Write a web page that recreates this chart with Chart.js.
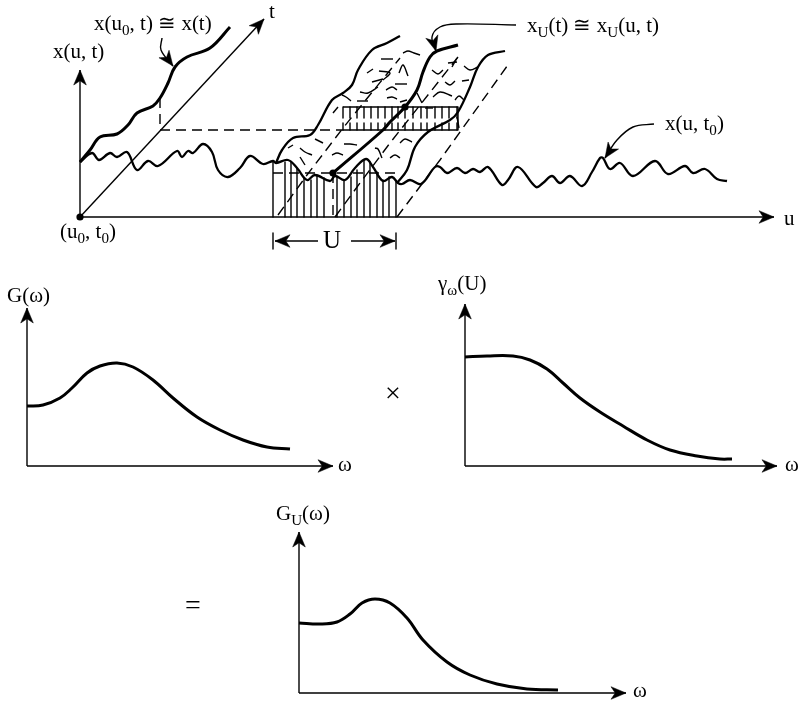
<!DOCTYPE html>
<html>
<head>
<meta charset="utf-8">
<style>
  html, body { margin: 0; padding: 0; background: #fff; }
  canvas { display: block; }
</style>
<script src="https://cdn.jsdelivr.net/npm/chart.js@4"></script>
</head>
<body>
<canvas id="chart" width="802" height="703"></canvas>
<script>
// all values, in page units

// top panel curves
const waveT0 = [[80,162],[92,153],[99,160],[110,153],[117,157],[127,152],[137,170],[148,161],[158,166],[177,151],[182,157],[188,151],[193,153],[203,144],[212,152],[218,170],[228,177],[240,168],[250,156],[263,164],[273,161],[276,163],[288,160],[297,168],[307,180],[315,175],[330,181],[335,176],[345,180],[355,168],[366,159],[373,167],[383,181],[392,177],[398,183],[402,184],[410,180],[421,184],[435,167],[440,167],[447,173],[457,168],[465,173],[473,169],[480,172],[488,167],[502,185],[508,180],[518,167],[536,187],[543,183],[552,176],[560,183],[570,176],[582,186],[592,172],[600,158],[603,158],[610,169],[620,163],[633,176],[655,161],[668,174],[685,166],[693,173],[705,169],[717,179],[727,181]];
const curveU0 = [[80,162],[90,150],[100,137],[117,134],[128,125],[137,113],[153,106],[160,98],[168,83],[175,67],[187,57],[210,48],[230,27]];
const curveXU = [[333,173],[383,130],[390,122],[405,107],[417,90],[423,72],[430,57],[437,51],[458,45]];
const bandLeft = [[276,163],[282,150],[293,138],[310,135],[318,125],[332,100],[343,93],[352,85],[358,70],[372,50],[387,43],[400,36]];
const bandRight = [[397,183],[407,170],[415,147],[428,132],[450,120],[458,112],[470,87],[478,67],[488,55],[505,51]];

// straight dashed guides
const dashGuides = [
  [[160,98],[160,130]],
  [[160,130],[343,130]],
  [[273,173],[397,173]],
  [[333,173],[333,217]],
  [[278,215],[307,175],[343,128],[400,58]],
  [[335,217],[360,183],[390,143],[458,57]],
  [[397,217],[440,160],[490,90],[510,62]]
];

// hatching under x(u,t0) and at the upper slice
const combX = [273,285,291,297,304,311,317,324,337,344,351,357,364,370,377,383,389,396];
const combTop = [162,162,162,168,178,180,175,178,177,181,177,170,160,162,172,180,177,182];
const sliceX = [343,350,357,364,371,378,385,392,398,405,413,421,427,435,442,449,457];

// squiggles inside the band
const squiggles = [
  [[381,59],[393,59]],
  [[367,73],[373,69]],
  [[379,71],[390,73],[383,80]],
  [[372,82],[383,79]],
  [[360,92],[368,93],[378,87]],
  [[386,90],[392,87],[397,90]],
  [[395,84],[407,84]],
  [[399,73],[403,65],[408,76]],
  [[403,53],[408,51],[414,53],[420,55]],
  [[387,98],[392,97],[397,99]],
  [[400,102],[407,100]],
  [[342,95],[346,97],[351,101]],
  [[357,101],[368,101]],
  [[333,113],[338,107]],
  [[432,70],[438,74],[443,70]],
  [[448,63],[457,62]],
  [[452,67],[457,58]],
  [[464,66],[470,70],[478,67]],
  [[445,82],[450,85],[455,81]],
  [[462,81],[469,80]],
  [[433,97],[440,92],[452,96]],
  [[455,100],[459,96],[464,100]],
  [[417,93],[422,103]],
  [[425,108],[433,108]],
  [[400,143],[405,139],[412,142]],
  [[390,158],[395,155],[400,158]],
  [[457,117],[459,128]],
  [[288,148],[293,145]],
  [[300,148],[305,152],[312,155]],
  [[300,157],[305,165]],
  [[315,139],[323,143]],
  [[332,155],[337,153],[343,155]],
  [[344,144],[350,144],[357,145]],
  [[375,148],[378,149],[382,158]]
];

// lower panel curves
const curveG = [[27,406],[43,405],[60,398],[72,388],[87,373],[100,366],[117,363],[133,367],[153,380],[173,398],[197,417],[220,430],[243,440],[267,447],[290,449]];
const curveGamma = [[465,357],[487,356],[513,356],[530,360],[547,369],[563,383],[580,398],[600,412],[623,426],[647,440],[670,450],[697,456],[720,459],[732,459]];
const curveGU = [[299,623],[320,624],[337,622],[350,614],[362,603],[375,599],[390,603],[407,618],[423,640],[447,662],[470,675],[497,684],[527,689],[558,690]];

// axes, thin lines ending in an arrow head: start, end
const arrowLines = [
  [[80,217],[80,70]],
  [[80,217],[264,19]],
  [[80,217],[774,217]],
  [[27,466],[27,308]],
  [[27,466],[333,466]],
  [[465,466],[465,304]],
  [[465,466],[777,466]],
  [[299,693],[299,532]],
  [[299,693],[626,693]],
  [[318,241],[275,241]],
  [[351,241],[395,241]]
];
const plainLines = [
  [[273,233],[273,249]],
  [[396,233],[396,249]],
  [[343,107],[458,107],[458,130],[343,130]]
];

// curved pointers next to the labels
const pointers = [
  [[162,38],[161,50],[173,66]],
  [[516,25],[457,24],[440,27],[432,37],[436,51]],
  [[654,124],[633,127],[617,140],[605,158]]
];
const dots = [[80,217],[333,173],[405,107]];

// text, "_" starts a subscript run, "^" goes back
const labelText = ['x(u_0^, t) \u2245 x(t)', 'x(u, t)', 't', '(u_0^, t_0^)', 'x_U^(t) \u2245 x_U^(u, t)', 'x(u, t_0^)', 'u', 'U', 'G(\u03c9)', '\u03b3_\u03c9^(U)', 'G_U^(\u03c9)', '\u03c9', '\u03c9', '\u03c9', '\u00d7', '='];
const labelX = [94, 53, 269, 60, 527, 665, 784, 323, 7, 438, 276, 338, 785, 633, 385, 185];
const labelY = [30, 58, 18, 238, 32, 130, 225, 248, 302, 290, 520, 471, 471, 697, 402, 614];
const labelSize = [21, 21, 21, 21, 21, 21, 21, 25, 21, 21, 21, 21, 21, 21, 28, 28];

const toPts = a => a.map(p => ({x: p[0], y: p[1]}));

function line(points, width, extra) {
  return Object.assign({
    data: toPts(points), borderColor: '#000', borderWidth: width,
    pointRadius: 0, tension: 0, fill: false, clip: false,
    borderCapStyle: 'butt', borderJoinStyle: 'round'
  }, extra || {});
}

// stealth head, tip on the end of the line
function arrowHead(from, tip, len) {
  const a = Math.atan2(tip[1] - from[1], tip[0] - from[0]);
  const at = (d, s) => [tip[0] - d * Math.cos(a) - s * Math.sin(a), tip[1] - d * Math.sin(a) + s * Math.cos(a)];
  const pts = [tip, at(len, len * 0.42), at(len * 0.72, 0), at(len, -len * 0.42), tip];
  return line(pts, 0.5, {fill: 'shape', backgroundColor: '#000'});
}

const datasets = [];
const smooth = {tension: 0.38};

datasets.push(line(waveT0, 2.3, smooth));
datasets.push(line(bandLeft, 2.3, smooth));
datasets.push(line(bandRight, 2.3, smooth));
datasets.push(line(curveU0, 3, smooth));
datasets.push(line(curveXU, 3, smooth));
datasets.push(line(curveG, 3, smooth));
datasets.push(line(curveGamma, 3, smooth));
datasets.push(line(curveGU, 3, smooth));

dashGuides.forEach(g => datasets.push(line(g, 1.4, {borderDash: [10, 6]})));
squiggles.forEach(s => datasets.push(line(s, 1.4, smooth)));

combX.forEach((x, i) => datasets.push(line([[x, combTop[i]], [x, 217]], 1.4)));
sliceX.forEach(x => {
  datasets.push(line([[x, 107], [x, 118]], 1.4));
  datasets.push(line([[x, 123], [x, 130]], 1.4));
});

arrowLines.forEach(l => {
  datasets.push(line(l, 1.4));
  datasets.push(arrowHead(l[0], l[1], 15));
});
plainLines.forEach(l => datasets.push(line(l, 1.4)));
pointers.forEach(p => {
  datasets.push(line(p, 1.4, smooth));
  datasets.push(arrowHead(p[p.length - 2], p[p.length - 1], 15));
});
datasets.push({type: 'scatter', data: toPts(dots), backgroundColor: '#000', borderWidth: 0, pointRadius: 3.6, clip: false});

const textPlugin = {
  id: 'diagramText',
  afterDatasetsDraw(chart) {
    const c = chart.ctx, sx = chart.scales.x, sy = chart.scales.y;
    c.save();
    c.fillStyle = '#000';
    c.textBaseline = 'alphabetic';
    labelText.forEach((t, i) => {
      let x = sx.getPixelForValue(labelX[i]);
      const y = sy.getPixelForValue(labelY[i]);
      t.split(/(_[^^]*\^)/).filter(Boolean).forEach(run => {
        const sub = run[0] === '_';
        const str = sub ? run.slice(1, -1) : run;
        c.font = (sub ? labelSize[i] * 0.72 : labelSize[i]) + 'px "Liberation Serif"';
        c.fillText(str, x, sub ? y + 5 : y);
        x += c.measureText(str).width;
      });
    });
    c.restore();
  }
};

new Chart(document.getElementById('chart'), {
  type: 'line',
  data: {datasets: datasets},
  plugins: [textPlugin],
  options: {
    responsive: false,
    animation: false,
    parsing: false,
    normalized: true,
    layout: {padding: 0, autoPadding: false},
    plugins: {legend: {display: false}, tooltip: {enabled: false}, title: {display: false}},
    scales: {
      x: {type: 'linear', min: 0, max: 802, display: false},
      y: {type: 'linear', min: 0, max: 703, reverse: true, display: false}
    }
  }
});
</script>
</body>
</html>
